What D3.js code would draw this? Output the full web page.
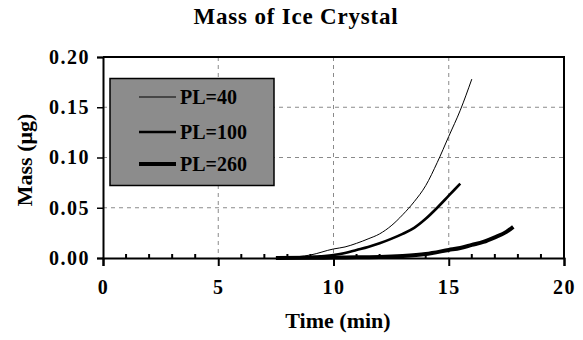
<!DOCTYPE html>
<html><head><meta charset="utf-8">
<script src="https://cdn.jsdelivr.net/npm/d3@7"></script>
<style>body{margin:0;background:#fff;} text{font-family:"Liberation Serif","Times New Roman",serif;font-weight:bold;fill:#000;}</style>
</head><body>
<svg id="c" width="583" height="340"></svg>
<script>
const xTicks = [0, 5, 10, 15, 20];
const yTicks = [0, 0.05, 0.10, 0.15, 0.20];
const seriesNames = ["PL=40", "PL=100", "PL=260"];
const pl40 = [[8,0.0005],[9,0.003],[10,0.009],[10.5,0.011],[11,0.0146],[11.5,0.019],[12,0.024],[12.5,0.032],[13,0.043],[13.5,0.056],[14,0.072],[14.5,0.095],[15,0.121],[15.5,0.147],[16,0.178]];
const pl100 = [[8,0.0002],[9,0.001],[10,0.003],[10.5,0.005],[11,0.008],[11.5,0.011],[12,0.0146],[12.5,0.019],[13,0.024],[13.5,0.030],[14,0.039],[14.5,0.050],[15,0.062],[15.5,0.074]];
const pl260 = [[7.5,0],[9,0.0002],[10,0.0004],[11,0.0007],[12,0.001],[13,0.002],[14,0.004],[15,0.008],[15.5,0.010],[16,0.013],[16.5,0.016],[17,0.0206],[17.5,0.026],[17.8,0.031]];
const widths = [1, 2.6, 4];

const svg = d3.select("#c");
const L = 103, R = 564, T = 57, B = 258;
const x = d3.scaleLinear().domain([0, 20]).range([L, R]);
const y = d3.scaleLinear().domain([0, 0.20]).range([B, T]);

// grid
const g = svg.append("g");
g.selectAll("line.vg").data([5,10,15]).enter().append("line")
  .attr("x1", d=>x(d)).attr("x2", d=>x(d)).attr("y1", T).attr("y2", B)
  .attr("stroke", "#8a8a8a").attr("stroke-width", 1).attr("stroke-dasharray", "4,4");
g.selectAll("line.hg").data([0.05,0.10,0.15]).enter().append("line")
  .attr("x1", L).attr("x2", R).attr("y1", d=>y(d)).attr("y2", d=>y(d))
  .attr("stroke", "#8a8a8a").attr("stroke-width", 1).attr("stroke-dasharray", "4,4");

// series
const line = d3.line().x(d=>x(d[0])).y(d=>y(d[1])).curve(d3.curveMonotoneX);
[pl40, pl100, pl260].forEach((s,i)=>{
  svg.append("path").datum(s).attr("d", line).attr("fill","none")
    .attr("stroke","#000").attr("stroke-width", widths[i]).attr("stroke-linejoin","round");
});

// frame top/right
svg.append("line").attr("x1", L).attr("x2", R+1).attr("y1", T).attr("y2", T).attr("stroke","#000").attr("stroke-width",2);
svg.append("line").attr("x1", R).attr("x2", R).attr("y1", T).attr("y2", B).attr("stroke","#000").attr("stroke-width",2);

// x axis
const xa = svg.append("g").attr("transform", `translate(0,${B})`)
  .call(d3.axisBottom(x).tickValues(xTicks).tickFormat(d3.format("d")).tickSize(8).tickPadding(14));
xa.select(".domain").attr("stroke-width", 2);
xa.selectAll(".tick line").attr("stroke-width", 2);
xa.selectAll("text").attr("font-size", 20).attr("font-family", "Liberation Serif").attr("font-weight","bold").attr("letter-spacing", "1.5px").attr("fill","#000");
// minor ticks inward
const minor = d3.range(1, 20).filter(d=>d%5!==0);
svg.append("g").selectAll("line").data(minor).enter().append("line")
  .attr("x1", d=>x(d)).attr("x2", d=>x(d)).attr("y1", B).attr("y2", B-4)
  .attr("stroke","#000").attr("stroke-width",2);

// y axis
const ya = svg.append("g").attr("transform", `translate(${L},0)`)
  .call(d3.axisLeft(y).tickValues(yTicks).tickFormat(d3.format(".2f")).tickSize(6).tickPadding(7));
ya.select(".domain").attr("stroke-width", 2);
ya.selectAll(".tick line").attr("stroke-width", 1.5);
ya.selectAll("text").attr("font-size", 20).attr("font-family", "Liberation Serif").attr("font-weight","bold").attr("letter-spacing", "1.5px").attr("fill","#000");

// legend
const lg = svg.append("g");
lg.append("rect").attr("x", 110).attr("y", 78.5).attr("width", 164).attr("height", 107)
  .attr("fill", "#8c8c8c").attr("stroke", "#000").attr("stroke-width", 1.5);
const ly = [97, 132, 164];
seriesNames.forEach((n,i)=>{
  lg.append("line").attr("x1", 139).attr("x2", 176).attr("y1", ly[i]).attr("y2", ly[i])
    .attr("stroke","#000").attr("stroke-width", widths[i]);
  lg.append("text").attr("x", 180).attr("y", ly[i]+7).attr("font-size", 20).text(n);
});

// titles
svg.append("text").attr("x", 296).attr("y", 24).attr("text-anchor","middle").attr("font-size", 23).attr("letter-spacing","0.8px").text("Mass of Ice Crystal");
svg.append("text").attr("x", 338).attr("y", 328).attr("text-anchor","middle").attr("font-size", 22).text("Time (min)");
svg.append("text").attr("transform", "translate(32,160) rotate(-90)").attr("text-anchor","middle").attr("font-size", 22).text("Mass (μg)");
</script>
</body></html>
